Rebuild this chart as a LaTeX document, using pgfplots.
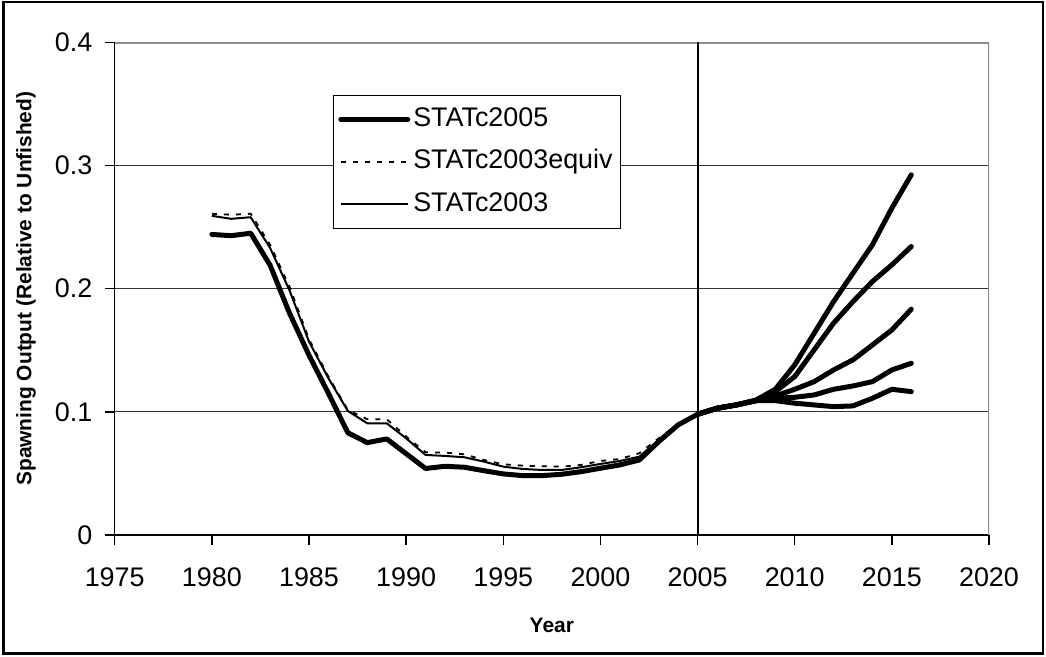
\documentclass[border=0pt]{standalone}
\usepackage{fontspec}
\setmainfont{Liberation Sans}
\usepackage{pgfplots}
\usepackage{pgfplotstable}
\pgfplotsset{compat=1.18}

% Spawning output relative to unfished, historical estimates
\pgfplotstableread{
year  base    equiv   old
1980  0.244   0.2608  0.2591
1981  0.243   0.2600  0.2567
1982  0.245   0.2608  0.2580
1983  0.219   0.2356  0.2330
1984  0.180   0.2015  0.1985
1985  0.146   0.1590  0.1570
1986  0.115   0.1286  0.1273
1987  0.083   0.1015  0.1007
1988  0.075   0.0940  0.0907
1989  0.078   0.0940  0.0907
1990  0.066   0.0799  0.0785
1991  0.054   0.0672  0.0650
1992  0.0558  0.0669  0.0642
1993  0.0550  0.0655  0.0631
1994  0.0522  0.0609  0.0596
1995  0.0496  0.0574  0.0555
1996  0.0482  0.0563  0.0536
1997  0.0482  0.0558  0.0528
1998  0.0493  0.0555  0.0528
1999  0.0514  0.0569  0.0550
2000  0.0542  0.0601  0.0577
2001  0.0569  0.0617  0.0601
2002  0.0609  0.0664  0.0636
2003  0.0758  0.0785  0.0772
2004  0.0894  0.0900  0.0900
2005  0.0980  0.0980  0.0980
}\hist

% STATc2005 projections under alternative catch levels
\pgfplotstableread{
year  pa      pb      pc      pd      pe
2005  0.0980  0.0980  0.0980  0.0980  0.0980
2006  0.1029  0.1029  0.1029  0.1029  0.1029
2007  0.1056  0.1056  0.1056  0.1056  0.1056
2008  0.1095  0.1092  0.1091  0.1090  0.1090
2009  0.1183  0.1164  0.1129  0.1110  0.1091
2010  0.1381  0.1286  0.1183  0.1118  0.1070
2011  0.1638  0.1503  0.1245  0.1137  0.1056
2012  0.1895  0.1720  0.1340  0.1183  0.1042
2013  0.2126  0.1895  0.1422  0.1210  0.1048
2014  0.2356  0.2058  0.1543  0.1245  0.1110
2015  0.2654  0.2193  0.1665  0.1340  0.1183
2016  0.2924  0.2342  0.1833  0.1394  0.1164
}\proj

\begin{document}
\begin{tikzpicture}
\useasboundingbox (-57.35bp,-61bp) rectangle (465.65bp,267.5bp);
\begin{axis}[
  scale only axis,
  width=437.15bp, height=246.35bp,
  xmin=1975, xmax=2020, ymin=0, ymax=0.4,
  axis x line*=bottom, axis y line*=left,
  x axis line style={-}, y axis line style={-},
  axis line style={black, line width=0.75bp},
  xtick={1975,1980,...,2020},
  ytick={0,0.1,0.2,0.3,0.4},
  yticklabels={0,0.1,0.2,0.3,0.4},
  /pgf/number format/1000 sep={},
  /pgf/number format/assume math mode=true,
  tick align=outside, major tick length=5bp,
  tick style={black, line width=0.75bp},
  ticklabel style={font=\fontsize{13.5}{16}\selectfont},
  xticklabel style={anchor=center, yshift=-16bp},
  yticklabel style={anchor=east, inner sep=0pt, xshift=-6bp},
  ymajorgrids,
  major grid style={black!80, line width=0.5bp},
  xlabel={\textbf{Year}},
  ylabel={\textbf{Spawning Output (Relative to Unfished)}},
  label style={font=\fontsize{10.5}{12}\selectfont},
  xlabel style={at={(axis description cs:0.5,-0.1827)}, anchor=center},
  ylabel style={at={(axis description cs:-0.1015,0.5)}, anchor=center},
  legend cell align=left,
  legend image code/.code={\draw[#1] (0bp,0bp) -- (33.5bp,0bp);},
  legend style={at={(axis description cs:0.2494,0.8932)}, anchor=north west,
    draw=black, line width=0.5bp, fill=white,
    inner xsep=2.5bp, inner ysep=3.5bp, row sep=4.25bp,
    font=\fontsize{13.5}{16}\selectfont,
    nodes={inner xsep=1.5bp, inner ysep=2bp, text height=10bp, text depth=3bp}},
]
% plot area frame on the top and right
\draw[black!45, line width=1.4bp] (rel axis cs:0,1) -- (rel axis cs:1,1) -- (rel axis cs:1,0);

\addplot[black, line width=2.5bp, line join=round, line cap=round] table[x=year, y=base] {\hist};
\addlegendentry{STATc2005}
\addplot[black, line width=0.9bp, dash pattern=on 2.5bp off 3.5bp] table[x=year, y=equiv] {\hist};
\addlegendentry{STATc2003equiv}
\addplot[black, line width=1bp, line join=round] table[x=year, y=old] {\hist};
\addlegendentry{STATc2003}

\foreach \c in {pa,pb,pc,pd,pe} {
  \addplot[black, line width=2.5bp, line join=round, line cap=round, forget plot] table[x=year, y=\c] {\proj};
}

% start of projection period
\addplot[black, line width=1bp, forget plot] coordinates {(2005,0) (2005,0.4)};
\end{axis}
% chart area border
\draw[black, line width=1.2bp] (-55.6bp,-59.2bp) rectangle (464.2bp,266.6bp);
\end{tikzpicture}
\end{document}
